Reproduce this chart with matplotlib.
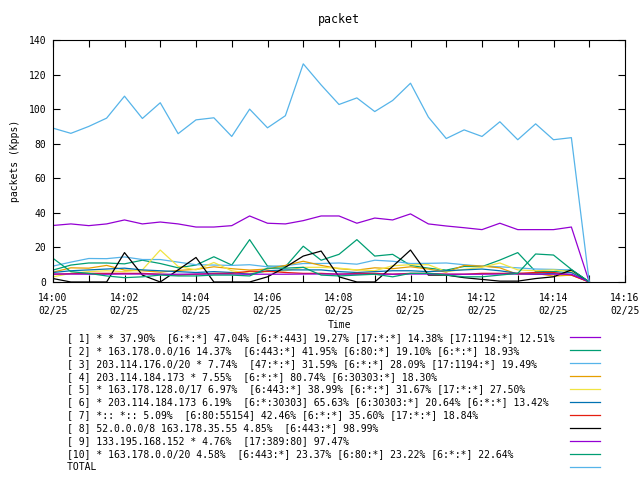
import matplotlib
matplotlib.use("Agg")
import matplotlib.pyplot as plt
import numpy as np

# sample times, minutes after 14:00 (30 s steps)
minutes = np.arange(0, 15.5, 0.5)

s1 = [32.7, 33.6, 32.6, 33.6, 35.9, 33.6, 34.7, 33.6, 31.8, 31.8, 32.6, 38.2, 34.0, 33.6, 35.5, 38.2,
      38.2, 34.0, 37.0, 35.9, 39.4, 33.6, 32.4, 31.4, 30.3, 34.0, 30.3, 30.3, 30.3, 31.8, 0]
s2 = [6.9, 9.8, 11.0, 11.0, 10.5, 12.6, 10.7, 8.2, 9.8, 14.6, 9.8, 24.5, 9.2, 8.8, 20.7, 12.6,
      16.0, 24.5, 15.0, 16.0, 9.6, 8.0, 6.9, 9.0, 8.9, 12.7, 17.0, 6.0, 6.0, 7.0, 0]
s3 = [9.2, 11.5, 13.6, 13.5, 14.5, 13.0, 13.0, 11.5, 10.0, 9.8, 9.6, 10.0, 8.8, 9.5, 10.7, 10.7,
      11.0, 10.3, 12.6, 12.0, 10.7, 10.8, 11.0, 10.0, 9.2, 8.8, 8.2, 7.5, 7.3, 6.9, 0]
s4 = [5.7, 8.2, 8.0, 9.6, 6.9, 6.5, 5.7, 6.7, 7.3, 8.8, 7.7, 6.9, 7.5, 9.6, 12.0, 9.6,
      7.7, 6.9, 8.2, 7.7, 8.8, 7.5, 5.7, 9.6, 9.2, 8.2, 4.4, 5.0, 3.4, 4.0, 0]
s5 = [3.0, 5.0, 6.0, 6.5, 6.0, 7.0, 18.5, 9.0, 7.0, 11.3, 6.5, 5.0, 6.0, 6.5, 8.5, 8.5,
      8.0, 7.0, 6.5, 9.4, 10.0, 10.0, 6.0, 7.3, 8.5, 11.0, 7.0, 6.5, 7.0, 6.0, 0]
s6 = [5.5, 6.5, 7.0, 7.5, 8.0, 7.0, 6.5, 6.0, 5.5, 6.0, 5.5, 4.5, 6.5, 7.0, 7.0, 7.0,
      6.0, 5.5, 6.0, 6.5, 6.5, 6.0, 6.5, 7.0, 7.5, 6.5, 5.0, 4.5, 5.0, 5.5, 0]
s7 = [4.5, 4.8, 5.0, 5.0, 5.0, 5.0, 4.5, 4.0, 4.5, 5.0, 5.0, 6.2, 6.2, 5.5, 5.0, 5.0,
      4.5, 5.0, 5.0, 4.5, 5.0, 5.0, 4.5, 4.5, 5.0, 5.0, 5.0, 5.5, 5.5, 4.0, 0]
s8 = [2.0, 0.0, 0.0, 0.0, 17.0, 4.0, 0.0, 7.0, 14.2, 0.0, 0.0, 0.0, 3.0, 8.5, 15.0, 17.9,
      3.0, 0.0, 0.0, 9.0, 18.5, 4.0, 4.0, 2.5, 1.5, 0.5, 0.5, 2.0, 3.0, 7.0, 0]
s9 = [4.6, 4.6, 4.5, 4.5, 4.6, 4.6, 4.5, 4.5, 4.6, 4.6, 4.6, 4.5, 4.5, 4.5, 4.6, 4.6,
      4.6, 4.5, 4.5, 4.5, 4.6, 4.6, 4.5, 4.5, 4.5, 4.6, 4.6, 4.5, 4.5, 4.5, 0]
s10 = [13.7, 6.0, 5.0, 3.5, 2.5, 3.0, 4.0, 3.5, 3.5, 4.0, 4.0, 3.5, 8.0, 8.0, 8.5, 4.0,
       3.5, 4.0, 4.5, 3.0, 5.0, 5.0, 4.0, 3.0, 3.0, 4.0, 5.0, 16.2, 15.6, 7.3, 0]
total = [89.0, 86.0, 90.0, 94.8, 107.5, 94.6, 103.7, 85.8, 93.8, 95.0, 84.2, 100.0, 89.2, 96.2, 126.2, 114.0,
         102.7, 106.5, 98.6, 105.0, 115.0, 95.4, 83.0, 88.0, 84.2, 92.7, 82.3, 91.5, 82.3, 83.5, 0]

labels = [
    "[ 1] * * 37.90%  [6:*:*] 47.04% [6:*:443] 19.27% [17:*:*] 14.38% [17:1194:*] 12.51%",
    "[ 2] * 163.178.0.0/16 14.37%  [6:443:*] 41.95% [6:80:*] 19.10% [6:*:*] 18.93%",
    "[ 3] 203.114.176.0/20 * 7.74%  [47:*:*] 31.59% [6:*:*] 28.09% [17:1194:*] 19.49%",
    "[ 4] 203.114.184.173 * 7.55%  [6:*:*] 80.74% [6:30303:*] 18.30%",
    "[ 5] * 163.178.128.0/17 6.97%  [6:443:*] 38.99% [6:*:*] 31.67% [17:*:*] 27.50%",
    "[ 6] * 203.114.184.173 6.19%  [6:*:30303] 65.63% [6:30303:*] 20.64% [6:*:*] 13.42%",
    "[ 7] *:: *:: 5.09%  [6:80:55154] 42.46% [6:*:*] 35.60% [17:*:*] 18.84%",
    "[ 8] 52.0.0.0/8 163.178.35.55 4.85%  [6:443:*] 98.99%",
    "[ 9] 133.195.168.152 * 4.76%  [17:389:80] 97.47%",
    "[10] * 163.178.0.0/20 4.58%  [6:443:*] 23.37% [6:80:*] 23.22% [6:*:*] 22.64%",
    "TOTAL",
]
series = [s1, s2, s3, s4, s5, s6, s7, s8, s9, s10, total]
colors = ["#9400d3", "#009e73", "#56b4e9", "#e69f00", "#f0e442", "#0072b2",
          "#e51e10", "#000000", "#9400d3", "#009e73", "#56b4e9"]

tick_pos = [0, 2, 4, 6, 8, 10, 12, 14, 16]
tick_labels = ["14:00\n02/25", "14:02\n02/25", "14:04\n02/25", "14:06\n02/25", "14:08\n02/25",
               "14:10\n02/25", "14:12\n02/25", "14:14\n02/25", "14:16\n02/25"]

plt.rcParams['font.family'] = ['DejaVu Sans Mono']
plt.rcParams['font.size'] = 7

fig = plt.figure(figsize=(6.4, 4.8), dpi=100)
ax = fig.add_axes([53 / 640, 1 - 282 / 480, 572 / 640, 242 / 480])

lines = []
for vals, c in zip(series, colors):
    ln, = ax.plot(minutes, vals, color=c, lw=0.9)
    lines.append(ln)

ax.set_xlim(0, 16)
ax.set_ylim(0, 140)
ax.set_xticks(tick_pos)
ax.set_xticklabels(tick_labels, linespacing=1.4)
ax.set_xticks(np.arange(1, 16, 2), minor=True)
ax.set_yticks([0, 20, 40, 60, 80, 100, 120, 140])
ax.tick_params(which='both', direction='in', top=True, right=True, length=5, width=0.8, pad=5)
ax.tick_params(axis='x', which='major', pad=8)
for sp in ax.spines.values():
    sp.set_linewidth(0.8)

ax.set_title("packet", pad=12)
ax.set_xlabel("Time", labelpad=3)
ax.set_ylabel("packets (Kpps)", labelpad=6)

# left-aligned labels, line samples in a column on the right
width = max(len(l) for l in labels)
padded = [l.ljust(width) for l in labels]
fig.legend(lines, padded, loc='upper left', bbox_to_anchor=(62 / 640, 1 - 328 / 480),
           frameon=False, borderpad=0, labelspacing=0.3, handlelength=3.1,
           handletextpad=1.6, markerfirst=False, fontsize=7)

fig.savefig("out.png", dpi=100)
